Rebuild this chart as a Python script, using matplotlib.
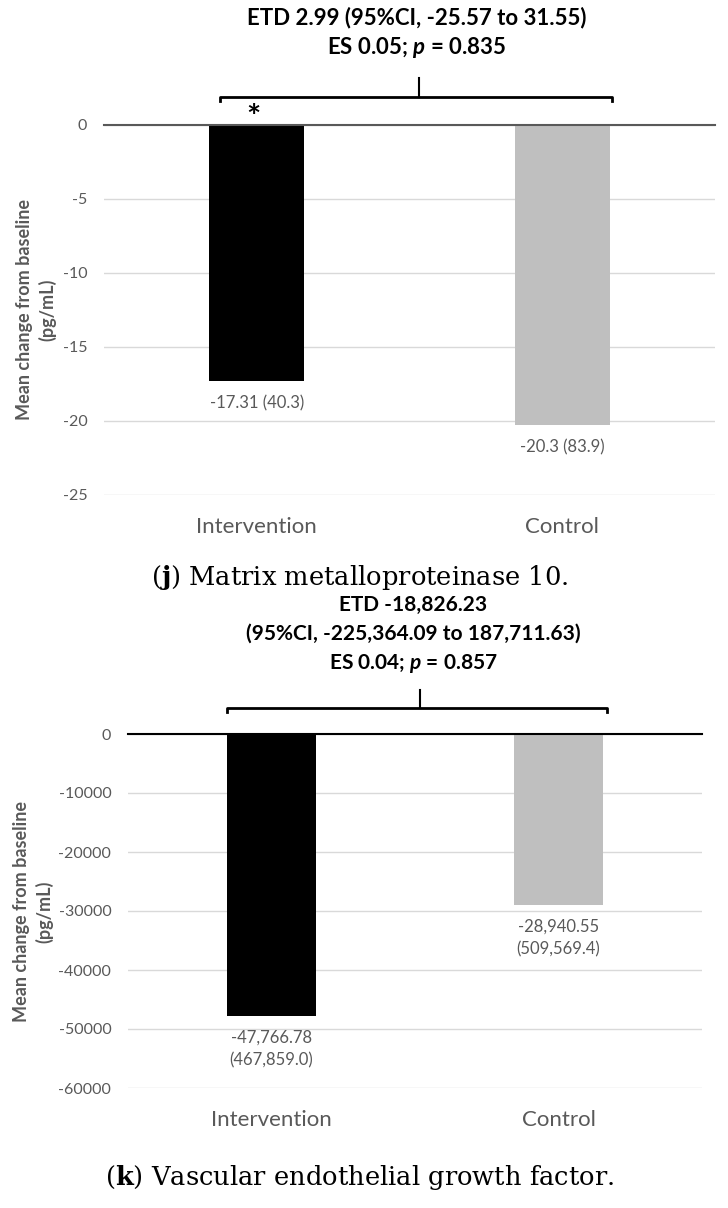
import matplotlib
matplotlib.use("Agg")
import matplotlib.pyplot as plt
import matplotlib.transforms as mtransforms

plt.rcParams["font.family"] = ["Lato", "DejaVu Sans"]
plt.rcParams["mathtext.fontset"] = "custom"
plt.rcParams["mathtext.it"] = "Lato:italic:bold"
plt.rcParams["mathtext.bf"] = "DejaVu Serif:bold"

# data
groups = ["Intervention", "Control"]

mmp10_values = [-17.31, -20.3]
mmp10_labels = ["-17.31 (40.3)", "-20.3 (83.9)"]
mmp10_ticks = [0, -5, -10, -15, -20, -25]
mmp10_header = ["ETD 2.99 (95%CI, -25.57 to 31.55)", "ES 0.05; $p$ = 0.835"]
mmp10_caption = r"($\mathbf{j}$) Matrix metalloproteinase 10."

vegf_values = [-47766.78, -28940.55]
vegf_labels = ["-47,766.78\n(467,859.0)", "-28,940.55\n(509,569.4)"]
vegf_ticks = [0, -10000, -20000, -30000, -40000, -50000, -60000]
vegf_header = ["ETD -18,826.23", "(95%CI, -225,364.09 to 187,711.63)", "ES 0.04; $p$ = 0.857"]
vegf_caption = r"($\mathbf{k}$) Vascular endothelial growth factor."

ylab = "Mean change from baseline\n(pg/mL)"
bar_colors = ["#000000", "#bfbfbf"]
grey = "#595959"

W, H = 728, 1208
fig = plt.figure(figsize=(W / 100, H / 100), dpi=100)


def px_axes(left, right, top, bottom):
    return fig.add_axes([left / W, 1 - bottom / H, (right - left) / W, (bottom - top) / H])


def draw_panel(ax, values, labels, ticks, zero_color, brace_x, brace_up, tick_up):
    x = list(range(len(groups)))
    ax.bar(x, values, width=0.31, color=bar_colors, zorder=2)
    ax.set_xlim(-0.5, 1.5)
    ax.set_ylim(min(ticks), 0)
    ax.set_yticks(ticks)
    ax.set_yticklabels([str(t) for t in ticks])
    ax.set_xticks(x)
    ax.set_xticklabels(groups, fontsize=16, color=grey)
    ax.tick_params(axis="x", length=0, pad=16)
    ax.tick_params(axis="y", length=0, pad=12, labelsize=11.5, labelcolor=grey)
    for s in ax.spines.values():
        s.set_visible(False)
    ax.yaxis.grid(True, color="#d9d9d9", lw=1, zorder=0)
    ax.axhline(0, color=zero_color, lw=1.5, zorder=3, clip_on=False)
    for xi, v, lab in zip(x, values, labels):
        ax.annotate(lab, (xi, v), xytext=(0, -10), textcoords="offset points",
                    ha="center", va="top", fontsize=12, color=grey, linespacing=1.5)
    # bracket over both bars
    tr = mtransforms.blended_transform_factory(ax.transData, ax.transAxes)
    x0, x1, xm = brace_x
    ax.plot([x0, x0, x1, x1], [brace_up - 0.01, brace_up, brace_up, brace_up - 0.01],
            color="black", lw=2, transform=tr, clip_on=False, solid_joinstyle="round")
    ax.plot([xm, xm], [brace_up, tick_up], color="black", lw=1.5, transform=tr, clip_on=False)
    return tr


# panel j
ax1 = px_axes(104, 715, 125, 495)
tr1 = draw_panel(ax1, mmp10_values, mmp10_labels, mmp10_ticks, grey,
                 (-0.12, 1.163, 0.531), 1 + 28 / 370, 1 + 47 / 370)
ax1.text(-0.01, 1 + 7 / 370, "*", transform=tr1, ha="center", va="center",
         fontsize=24, fontweight="bold")
fig.text(36 / W, 1 - 310 / H, ylab, rotation=90, ha="center", va="center",
         fontsize=13, fontweight="bold", color=grey, linespacing=1.35)

fig.text(417 / W, 1 - 18 / H, mmp10_header[0], ha="center", va="center",
         fontsize=16, fontweight="bold")
fig.text(417 / W, 1 - 48 / H, mmp10_header[1], ha="center", va="center",
         fontsize=16, fontweight="bold")
fig.text(360 / W, 1 - 578 / H, mmp10_caption, ha="center", va="center",
         fontsize=18.5, family="DejaVu Serif")

# panel k
ax2 = px_axes(128, 702, 734, 1088)
draw_panel(ax2, vegf_values, vegf_labels, vegf_ticks, "black",
           (-0.155, 1.169, 0.517), 1 + 26 / 354, 1 + 44 / 354)
fig.text(33 / W, 1 - 912 / H, ylab, rotation=90, ha="center", va="center",
         fontsize=13, fontweight="bold", color=grey, linespacing=1.35)

for yy, line in zip([605, 634, 663], vegf_header):
    fig.text(413 / W, 1 - yy / H, line, ha="center", va="center",
             fontsize=15, fontweight="bold")
fig.text(360 / W, 1 - 1177 / H, vegf_caption, ha="center", va="center",
         fontsize=18.5, family="DejaVu Serif")

fig.savefig("out.png", dpi=100, facecolor="white")
